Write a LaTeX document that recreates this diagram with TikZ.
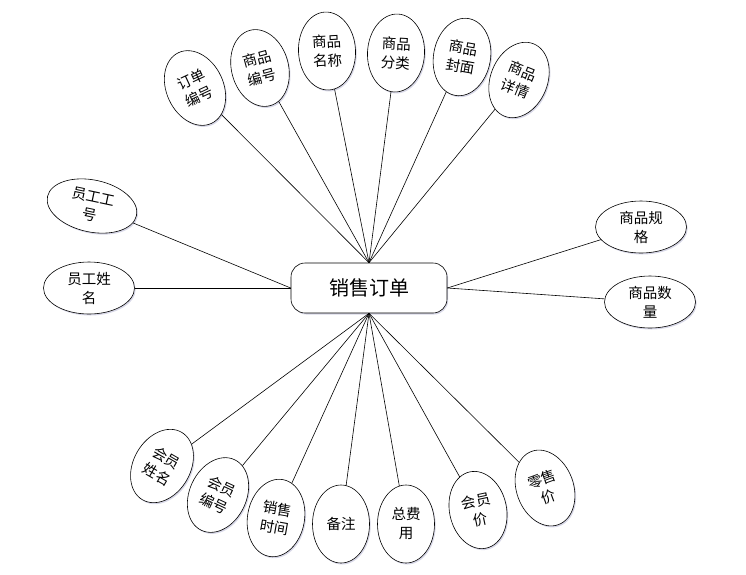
\documentclass[tikz,border=0pt]{standalone}
\usepackage{fontspec}
\newfontfamily\cjk{Noto Sans CJK SC}
\usepackage{tikz}
\usetikzlibrary{shapes, shadows, positioning, calc}

\tikzset{
  attr/.style={ellipse, draw, line width=0.6pt, fill=white, inner sep=0pt,
    minimum width=57pt, minimum height=78pt, align=center,
    font=\cjk\fontsize{14.5}{19}\selectfont,
    drop shadow={shadow xshift=1.2pt, shadow yshift=-1.5pt, fill=blue!25!gray, opacity=0.25}},
  wideattr/.style={attr, minimum width=91pt, minimum height=52pt},
  order/.style={rectangle, rounded corners=14pt, draw, line width=0.6pt, fill=white,
    minimum width=156pt, minimum height=50pt, font=\cjk\fontsize{20}{24}\selectfont,
    drop shadow={shadow xshift=1.2pt, shadow yshift=-1.5pt, fill=blue!25!gray, opacity=0.25}},
  link/.style={line width=0.6pt}
}

\begin{document}
\begin{tikzpicture}[x=1pt, y=-1pt]
  \useasboundingbox (0,0) rectangle (746,574);

  \node[order] (sale) at (369,288) {销售订单};

  % top attributes
  \node[attr, rotate=25] (ddbh) at (195,88) {订单\\编号};
  \node[attr, rotate=15] (spbh) at (260,68) {商品\\编号};
  \node[attr, rotate=3] (spmc) at (327,51) {商品\\名称};
  \node[attr, rotate=-3] (spfl) at (396,53) {商品\\分类};
  \node[attr, rotate=-10] (spfm) at (462,57) {商品\\封面};
  \node[attr, rotate=-22] (spxq) at (519,80) {商品\\详情};

  % left attributes
  \node[wideattr, rotate=-12] (yggh) at (92,206) {员工工\\号};
  \node[wideattr] (ygxm) at (89,288) {员工姓\\名};

  % right attributes
  \node[wideattr] (spgg) at (641,227) {商品规\\格};
  \node[wideattr] (spsl) at (650,302) {商品数\\量};

  % bottom attributes
  \node[attr, rotate=-30] (hyxm) at (162,466) {会员\\姓名};
  \node[attr, rotate=-25] (hybh) at (218,495) {会员\\编号};
  \node[attr, rotate=-10] (xssj) at (276,518) {销售\\时间};
  \node[attr] (bz) at (341,524) {备注};
  \node[attr] (zfy) at (406,524) {总费\\用};
  \node[attr, rotate=12] (hyj) at (478,510) {会员\\价};
  \node[attr, rotate=20] (lsj) at (545,488) {零售\\价};

  \foreach \a in {ddbh, spbh, spmc, spfl, spfm, spxq}
    \draw[link] (sale.north) -- (\a);
  \foreach \a in {hyxm, hybh, xssj, bz, zfy, hyj, lsj}
    \draw[link] (sale.south) -- (\a);
  \draw[link] (sale.west) -- (yggh);
  \draw[link] (sale.west) -- (ygxm);
  \draw[link] (sale.east) -- (spgg);
  \draw[link] (sale.east) -- (spsl);
\end{tikzpicture}
\end{document}
